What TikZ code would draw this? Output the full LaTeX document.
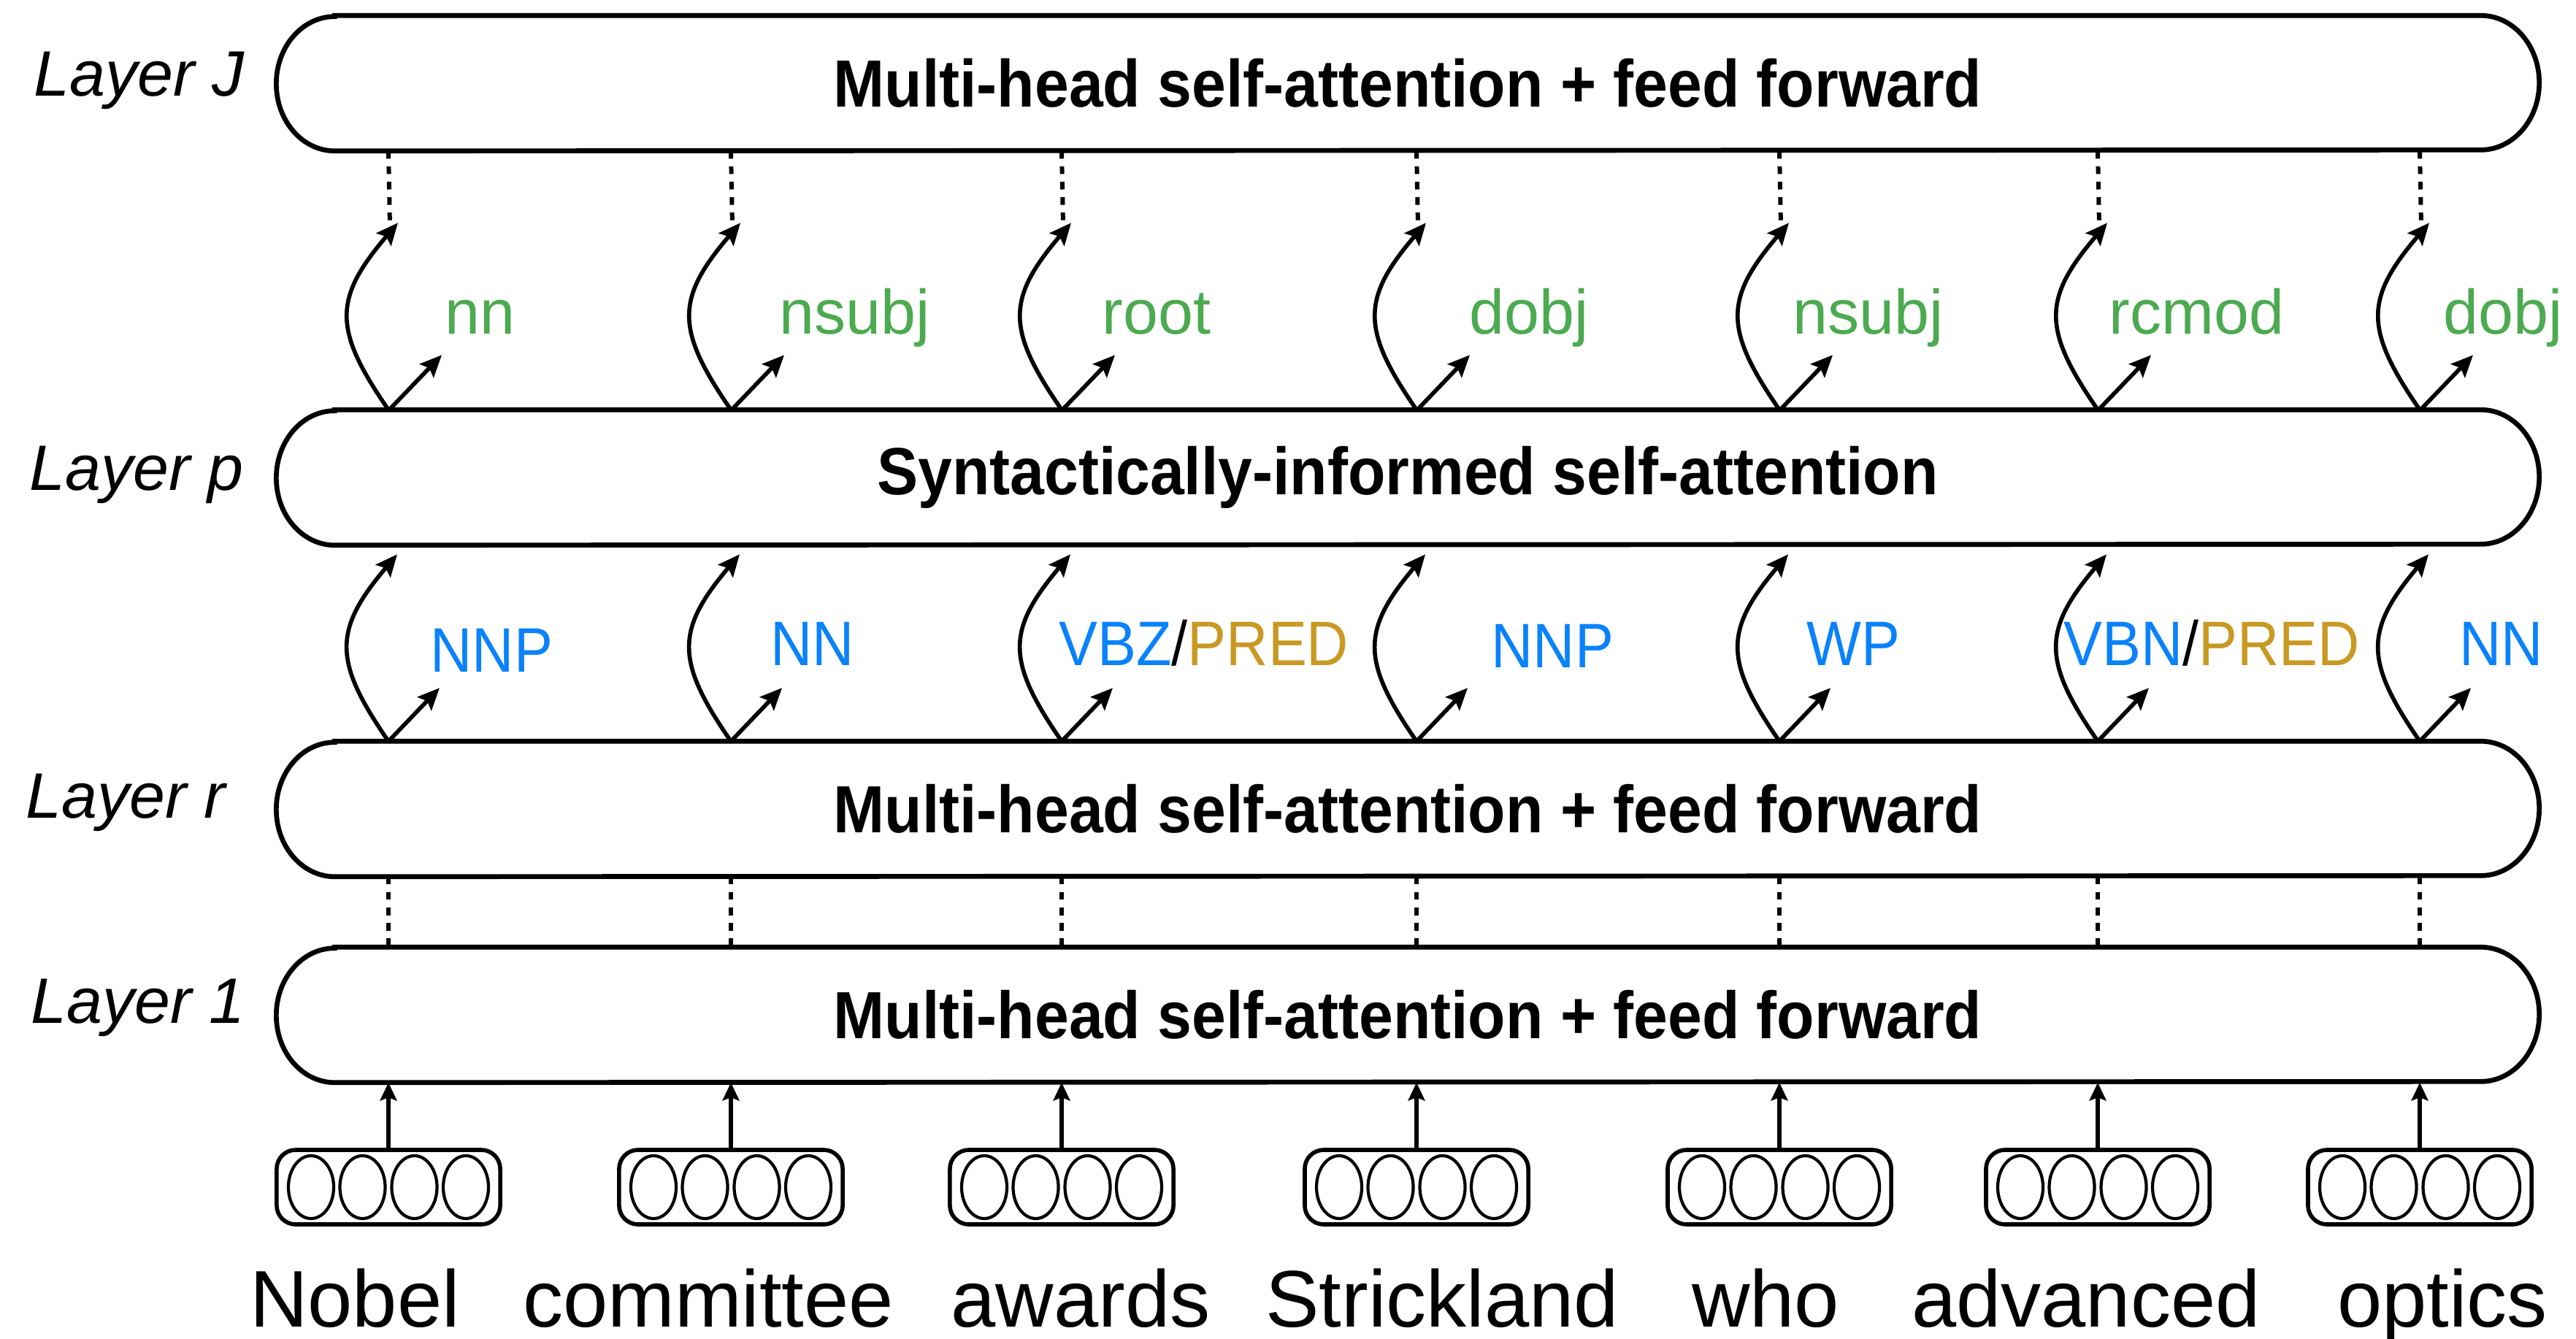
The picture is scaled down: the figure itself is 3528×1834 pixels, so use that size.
\documentclass[tikz,border=0pt]{standalone}
\usepackage{fontspec}
\setmainfont{Liberation Sans}
\newfontfamily\capsfont{Liberation Sans}[FakeStretch=0.92]
\newfontfamily\condbold{Liberation Sans}[FakeStretch=0.92]
\usetikzlibrary{arrows.meta,calc}
\definecolor{depgreen}{RGB}{76,170,80}
\definecolor{posblue}{RGB}{10,130,250}
\definecolor{predgold}{RGB}{200,153,35}
\newcommand\mycapsule[1]{\draw[boxline] ($(#1.north west)+(80,0)$) -- ($(#1.north east)+(-80,0)$) arc[start angle=90,end angle=-90,x radius=0.8cm,y radius=0.92cm] -- ($(#1.south west)+(80,0)$) arc[start angle=270,end angle=90,x radius=0.8cm,y radius=0.92cm] -- cycle;}
\begin{document}
\begin{tikzpicture}[x=0.01cm,y=0.01cm,
 layerbox/.style={draw=none, minimum width=30.96cm, minimum height=1.84cm, inner sep=0pt, font=\fontsize{26}{30}\selectfont\condbold\bfseries},
 boxline/.style={line width=1.9pt},
 vecbox/.style={draw, line width=1.6pt, rounded corners=0.26cm, minimum width=3.06cm, minimum height=1.02cm, inner sep=0pt},
 vecell/.style={line width=1.2pt},
 arr/.style={line width=1.6pt, -{Stealth[length=8.5pt,width=7.5pt,inset=1.5pt]}},
 uparr/.style={line width=1.5pt, -{Stealth[length=7pt,width=6.5pt,inset=1.2pt]}},
 dots/.style={line width=1.7pt, dash pattern=on 3pt off 3pt},
 laylabel/.style={anchor=base west, inner sep=0pt, font=\fontsize{25}{30}\selectfont\itshape},
 deplabel/.style={anchor=base west, inner sep=0pt, text=depgreen, font=\fontsize{24.5}{29}\selectfont},
 poslabel/.style={anchor=base west, inner sep=0pt, text=posblue, font=\fontsize{24.5}{29}\selectfont\capsfont},
 word/.style={anchor=base, inner sep=0pt, font=\fontsize{31.3}{36}\selectfont}]
\useasboundingbox (0,0) rectangle (3528,-1834);

% layer boxes
\node[layerbox] (J) at (1928,-114) {Multi-head self-attention + feed forward};
\node[layerbox] (P) at (1928,-654) {Syntactically-informed self-attention};
\node[layerbox] (R) at (1928,-1108) {Multi-head self-attention + feed forward};
\node[layerbox] (L1) at (1928,-1390) {Multi-head self-attention + feed forward};
\foreach \n in {J,P,R,L1} {\mycapsule{\n}}

% layer labels
\node[laylabel] (lJ) at (46,-132) {Layer J};
\node[laylabel] (lp) at (40,-672) {Layer p};
\node[laylabel] (lr) at (35,-1120) {Layer r};
\node[laylabel] (l1) at (42,-1401) {Layer 1};

% columns
\foreach \c/\wx/\w [count=\i] in {532/486/Nobel, 1001/970/committee, 1454/1480/awards, 1940/1975/Strickland, 2437/2418/who, 2873/2857/advanced, 3314/3345/optics} {
 \node[vecbox] (v\i) at (\c,-1626) {};
 \foreach \dx in {-106,-35.5,35.5,106} {\draw[vecell] ($(v\i)+(\dx,0)$) ellipse[x radius=0.31cm, y radius=0.43cm];}
 \node[word] (w\i) at (\wx,-1817) {\w};
 \draw[uparr] (v\i.north) -- (v\i.north |- L1.south);
 \draw[dots] (v\i.north |- R.south) -- (v\i.north |- L1.north);
 \coordinate (rb\i) at (v\i.north |- R.north);
 \draw[arr] (rb\i) .. controls ($(rb\i)+(-76,110)$) and ($(rb\i)+(-76,152)$) .. ($(rb\i)+(12,256)$);
 \draw[arr] ($(rb\i)+(2,2)$) -- ($(rb\i)+(70,73)$);
 \coordinate (pb\i) at (v\i.north |- P.north);
 \draw[arr] (pb\i) .. controls ($(pb\i)+(-76,110)$) and ($(pb\i)+(-76,152)$) .. ($(pb\i)+(13,256)$);
 \draw[arr] ($(pb\i)+(3,2)$) -- ($(pb\i)+(73,75)$);
 \draw[dots] (v\i.north |- J.south) -- ($(pb\i)+(2,252)$);
}

% dependency labels
\foreach \x/\t [count=\i] in {609/nn, 1067/nsubj, 1509/root, 2012/dobj, 2455/nsubj, 2888/rcmod, 3346/dobj} {
 \node[deplabel] (d\i) at (\x,-458) {\t};
}

% POS labels
\node[poslabel] (t1) at (589,-920) {NNP};
\node[poslabel] (t2) at (1055,-911) {NN};
\node[poslabel] (t3) at (1450,-911) {VBZ\textcolor{black}{/}\textcolor{predgold}{PRED}};
\node[poslabel] (t4) at (2042,-914) {NNP};
\node[poslabel] (t5) at (2474,-911) {WP};
\node[poslabel] (t6) at (2826,-911) {VBN\textcolor{black}{/}\textcolor{predgold}{PRED}};
\node[poslabel] (t7) at (3368,-911) {NN};
\end{tikzpicture}
\end{document}
